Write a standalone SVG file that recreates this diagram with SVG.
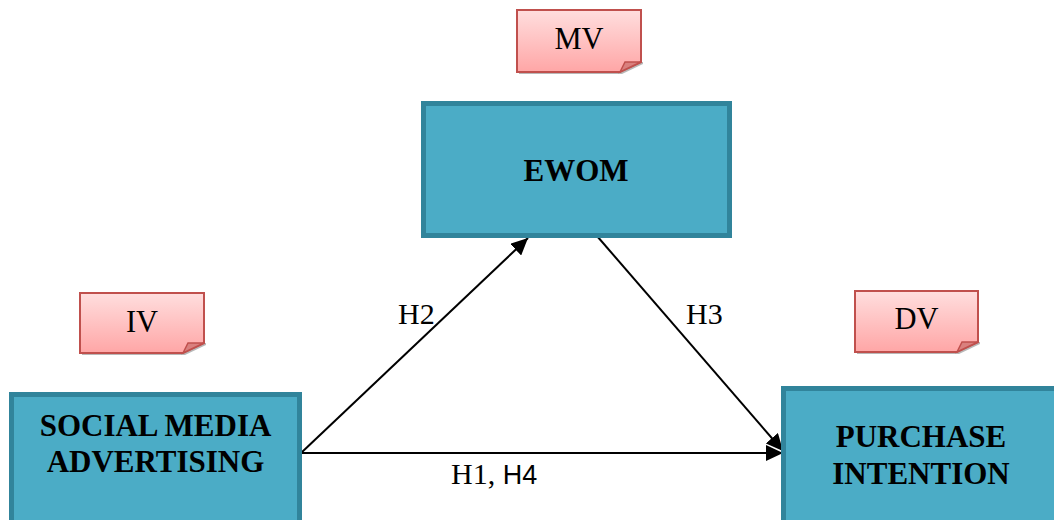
<svg xmlns="http://www.w3.org/2000/svg" width="1054" height="520" viewBox="0 0 1054 520">
<style>
.box{fill:#4BACC6;stroke:#31849B;stroke-width:5}
.bt{font-family:'Liberation Serif','DejaVu Serif',serif;font-weight:bold;font-size:31px;fill:#000;text-anchor:middle}
.note{fill:url(#pink);stroke:#C0504D;stroke-width:2}
.fold{fill:#D9807E;stroke:#C0504D;stroke-width:1.5}
.shadow{fill:#9a9a9a;opacity:0.7}
.nt{font-family:'Liberation Serif','DejaVu Serif',serif;font-size:30.5px;fill:#000;text-anchor:middle}
.lbl{font-family:'Liberation Serif','DejaVu Serif',serif;font-size:30px;fill:#000}
.sans{font-family:'Liberation Sans','DejaVu Sans',sans-serif;font-size:27px}
.edge{stroke:#000;stroke-width:2;fill:none}
</style>
<defs>
<linearGradient id="pink" x1="0" y1="0" x2="0" y2="1">
<stop offset="0" stop-color="#FFDEDE"/>
<stop offset="1" stop-color="#FFA6A6"/>
</linearGradient>
<marker id="arr" markerUnits="userSpaceOnUse" markerWidth="18" markerHeight="16" refX="17" refY="8" orient="auto">
<path d="M0,0 L17,8 L0,16 z" fill="#000"/>
</marker>
</defs>
<rect width="1054" height="520" fill="#fff"/>

<g id="connectors">
<line class="edge" x1="301" y1="453" x2="528" y2="238" marker-end="url(#arr)"/>
<line class="edge" x1="597" y1="236" x2="783" y2="451" marker-end="url(#arr)"/>
<line class="edge" x1="301" y1="453" x2="783" y2="453" marker-end="url(#arr)"/>
<text class="lbl" x="398" y="324">H2</text>
<text class="lbl" x="686" y="324">H3</text>
<text class="lbl" x="451" y="484">H1, <tspan class="sans">H4</tspan></text>
</g>

<g id="ewom">
<rect class="box" x="423.5" y="103.5" width="306" height="132"/>
<text class="bt" x="576" y="181">EWOM</text>
</g>

<g id="sma">
<rect class="box" x="11.5" y="394.5" width="288" height="200"/>
<text class="bt" x="155.5" y="436">SOCIAL MEDIA</text>
<text class="bt" x="155.5" y="472">ADVERTISING</text>
</g>

<g id="pi">
<rect class="box" x="783.5" y="388.5" width="300" height="200"/>
<text class="bt" x="921" y="447">PURCHASE</text>
<text class="bt" x="921" y="484">INTENTION</text>
</g>

<g id="mv">
<path class="shadow" d="M519,72 L620,72 L641,62 L643,62 L643,64 L622,74 L519,74 z"/>
<path class="note" d="M517,10 L641,10 L641,62 L620,72 L517,72 z"/>
<path class="fold" d="M620,72 L625,62 L641,62 z"/>
<text class="nt" x="579" y="49">MV</text>
</g>

<g id="iv">
<path class="shadow" d="M82,353 L183,353 L204,343 L206,343 L206,345 L185,355 L82,355 z"/>
<path class="note" d="M80,293 L204,293 L204,343 L183,353 L80,353 z"/>
<path class="fold" d="M183,353 L188,343 L204,343 z"/>
<text class="nt" x="142" y="332">IV</text>
</g>

<g id="dv">
<path class="shadow" d="M857,352 L957,352 L978,342 L980,342 L980,344 L959,354 L857,354 z"/>
<path class="note" d="M855,291 L978,291 L978,342 L957,352 L855,352 z"/>
<path class="fold" d="M957,352 L962,342 L978,342 z"/>
<text class="nt" x="916.5" y="329">DV</text>
</g>
</svg>
